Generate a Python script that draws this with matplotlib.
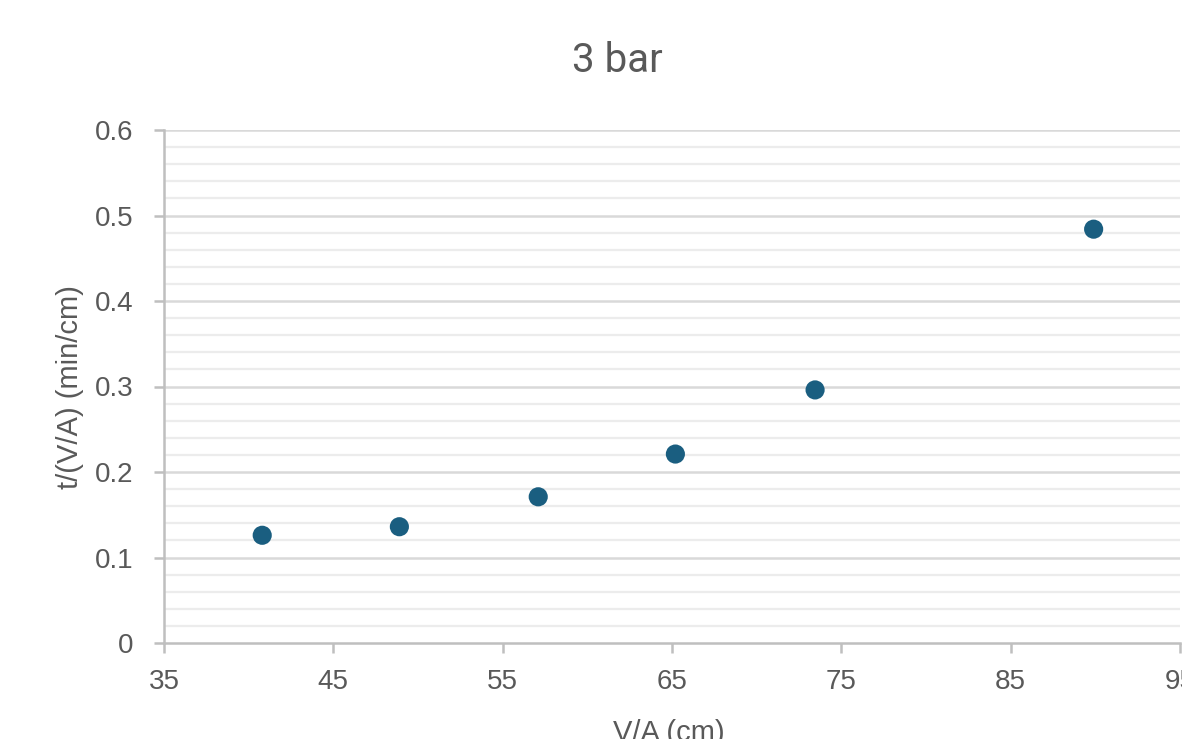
import matplotlib.pyplot as plt
import numpy as np

# V/A (cm) vs t/(V/A) (min/cm) at 3 bar
va_cm = [40.8, 48.9, 57.1, 65.2, 73.45, 89.9]
t_per_va = [0.126, 0.136, 0.171, 0.221, 0.296, 0.484]

x_ticks = [35, 45, 55, 65, 75, 85, 95]
y_ticks = [0, 0.1, 0.2, 0.3, 0.4, 0.5, 0.6]
y_tick_labels = ['0', '0.1', '0.2', '0.3', '0.4', '0.5', '0.6']

plt.rcParams['font.family'] = ['Liberation Sans', 'DejaVu Sans']

fig = plt.figure(figsize=(11.82, 7.39), dpi=100)
ax = fig.add_axes([164 / 1182, 96 / 739, 1016 / 1182, 513 / 739])

# 次网格线与主网格线
for y in np.arange(0.02, 0.6, 0.02):
    if abs(y * 10 - round(y * 10)) > 1e-6:
        ax.axhline(y, color='#ececec', lw=1.6, zorder=0)
for y in y_ticks[1:]:
    ax.axhline(y, color='#d9d9d9', lw=1.8, zorder=0)

ax.scatter(va_cm, t_per_va, s=190, color='#1a5e80', edgecolors='none', zorder=3)

ax.set_xlim(35, 95)
ax.set_ylim(0, 0.6)
ax.set_xticks(x_ticks)
ax.set_xticklabels([str(v) for v in x_ticks])
ax.set_yticks(y_ticks)
ax.set_yticklabels(y_tick_labels)

for side in ['top', 'right']:
    ax.spines[side].set_visible(False)
for side in ['left', 'bottom']:
    ax.spines[side].set_color('#bfbfbf')
    ax.spines[side].set_linewidth(1.8)

ax.tick_params(axis='both', colors='#bfbfbf', labelcolor='#595959',
               labelsize=20, length=7, width=1.8, direction='out')
ax.tick_params(axis='y', pad=15)
ax.tick_params(axis='x', pad=12)

fig.text(617 / 1182, 1 - 60 / 739, '3 bar', ha='center', va='center',
         fontsize=29, color='#595959', family=['Roboto', 'DejaVu Sans'])
fig.text(70 / 1182, 1 - 387 / 739, 't/(V/A) (min/cm)', ha='center', va='center',
         rotation=90, fontsize=21, color='#595959')
fig.text(669 / 1182, 1 - 733 / 739, 'V/A (cm)', ha='center', va='center',
         fontsize=21, color='#595959')

fig.savefig('out.png', dpi=100)
